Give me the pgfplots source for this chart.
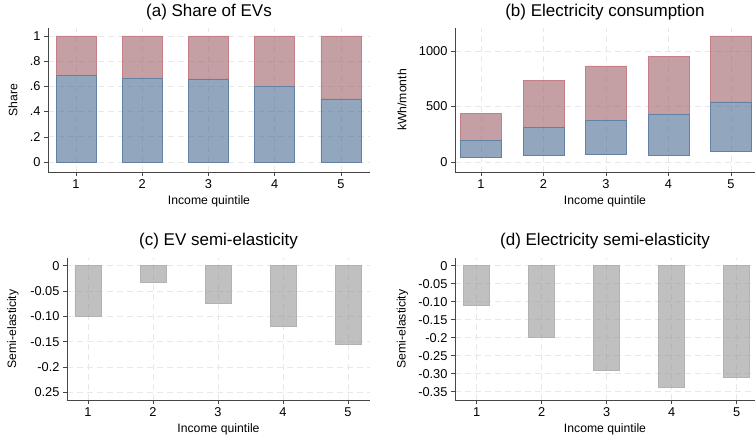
\documentclass[border=0pt]{standalone}
\usepackage{fontspec}
\setmainfont{Liberation Sans}
\usepackage{pgfplots}
\pgfplotsset{compat=1.18}
\usepackage{pgfplotstable}

\definecolor{evblue}{RGB}{73,107,145}
\definecolor{evblueedge}{RGB}{100,128,165}
\definecolor{evred}{RGB}{157,97,105}
\definecolor{evrededge}{RGB}{196,128,134}
\definecolor{bargray}{RGB}{150,150,150}
\definecolor{bargrayedge}{RGB}{178,178,178}
\definecolor{axgray}{RGB}{70,70,70}
\definecolor{gridgray}{RGB}{232,232,232}

\pgfplotstableread{
q ev total
1 0.69 1
2 0.665 1
3 0.66 1
4 0.60 1
5 0.50 1
}\tabA

\pgfplotstableread{
q low mid top
1 42 198 438
2 57 309 733
3 69 378 865
4 57 432 949
5 99 541 1135
}\tabB

\pgfplotstableread{
q se
1 -0.100
2 -0.032
3 -0.074
4 -0.120
5 -0.155
}\tabC

\pgfplotstableread{
q se
1 -0.109
2 -0.200
3 -0.290
4 -0.338
5 -0.310
}\tabD

\pgfplotsset{stata/.style={
  scale only axis,
  anchor=south west,
  axis x line*=bottom, axis y line*=left,
  axis line style={axgray, line width=0.6pt, -},
  tick style={axgray, line width=0.6pt},
  tick align=outside, major tick length=4pt,
  grid=major, major grid style={gridgray, line width=0.7pt, dash pattern=on 6pt off 4pt},
  xtick={1,2,3,4,5},
  scaled y ticks=false,
  /pgf/number format/assume math mode=true,
  tick label style={font=\fontsize{12.8}{15}\selectfont},
  label style={font=\fontsize{12.2}{14}\selectfont},
  title style={font=\fontsize{17}{20}\selectfont},
  xlabel={Income quintile},
  xlabel style={at={(axis description cs:0.5,-0.229)}, anchor=base},
  clip=false,
}}

\begin{document}
\begin{tikzpicture}
\useasboundingbox (0,0) rectangle (755pt,435pt);

% (a)
\begin{axis}[stata, at={(48pt,263pt)}, width=322pt, height=144pt,
  xmin=0.577, xmax=5.44, ymin=-0.079, ymax=1.063,
  ybar stacked, bar width=40pt,
  ytick={0,0.2,0.4,0.6,0.8,1}, yticklabels={0,.2,.4,.6,.8,1},
  ylabel={Share},
  ylabel style={at={(axis description cs:-0.109,0.5)}, anchor=center},
  title={(a) Share of EVs},
  title style={at={(axis description cs:0.5,1.037)}, anchor=base}]
\addplot[fill=evblue, fill opacity=0.6, draw=evblueedge, line width=0.6pt] table[x=q, y=ev] {\tabA};
\addplot[fill=evred, fill opacity=0.6, draw=evrededge, line width=0.6pt] table[x=q, y expr=\thisrow{total}-\thisrow{ev}] {\tabA};
\end{axis}

% (b)
\begin{axis}[stata, at={(455pt,263pt)}, width=300pt, height=144pt,
  xmin=0.584, xmax=5.384, ymin=-90, ymax=1207,
  ybar stacked, bar width=41pt,
  ytick={0,500,1000}, yticklabels={0,500,1000},
  ylabel={kWh/month},
  ylabel style={at={(axis description cs:-0.177,0.5)}, anchor=center},
  title={(b) Electricity consumption},
  title style={at={(axis description cs:0.5,1.037)}, anchor=base}]
\addplot[draw=none, fill=none] table[x=q, y=low] {\tabB};
\addplot[fill=evblue, fill opacity=0.6, draw=evblueedge, line width=0.6pt] table[x=q, y expr=\thisrow{mid}-\thisrow{low}] {\tabB};
\addplot[fill=evred, fill opacity=0.6, draw=evrededge, line width=0.6pt] table[x=q, y expr=\thisrow{top}-\thisrow{mid}] {\tabB};
\end{axis}

% (c)
\begin{axis}[stata, at={(67pt,35pt)}, width=303pt, height=142.3pt,
  xmin=0.677, xmax=5.338, ymin=-0.265, ymax=0.0158,
  ybar, bar width=26pt,
  ytick={0,-0.05,-0.1,-0.15,-0.2,-0.25},
  yticklabels={0,-0.05,-0.10,-0.15,-0.2,0.25},
  ylabel={Semi-elasticity},
  ylabel style={at={(axis description cs:-0.178,0.5)}, anchor=center},
  title={(c) EV semi-elasticity},
  title style={at={(axis description cs:0.5,1.042)}, anchor=base}]
\addplot[fill=bargray, fill opacity=0.6, draw=bargrayedge, line width=0.6pt] table[x=q, y=se] {\tabC};
\end{axis}

% (d)
\begin{axis}[stata, at={(455pt,35pt)}, width=300pt, height=142.3pt,
  xmin=0.667, xmax=5.282, ymin=-0.373, ymax=0.022,
  ybar, bar width=26pt,
  ytick={0,-0.05,-0.1,-0.15,-0.2,-0.25,-0.3,-0.35},
  yticklabels={0,-0.05,-0.10,-0.15,-0.2,-0.25,-0.30,-0.35},
  ylabel={Semi-elasticity},
  ylabel style={at={(axis description cs:-0.175,0.5)}, anchor=center},
  title={(d) Electricity semi-elasticity},
  title style={at={(axis description cs:0.5,1.042)}, anchor=base}]
\addplot[fill=bargray, fill opacity=0.6, draw=bargrayedge, line width=0.6pt] table[x=q, y=se] {\tabD};
\end{axis}
\end{tikzpicture}
\end{document}
